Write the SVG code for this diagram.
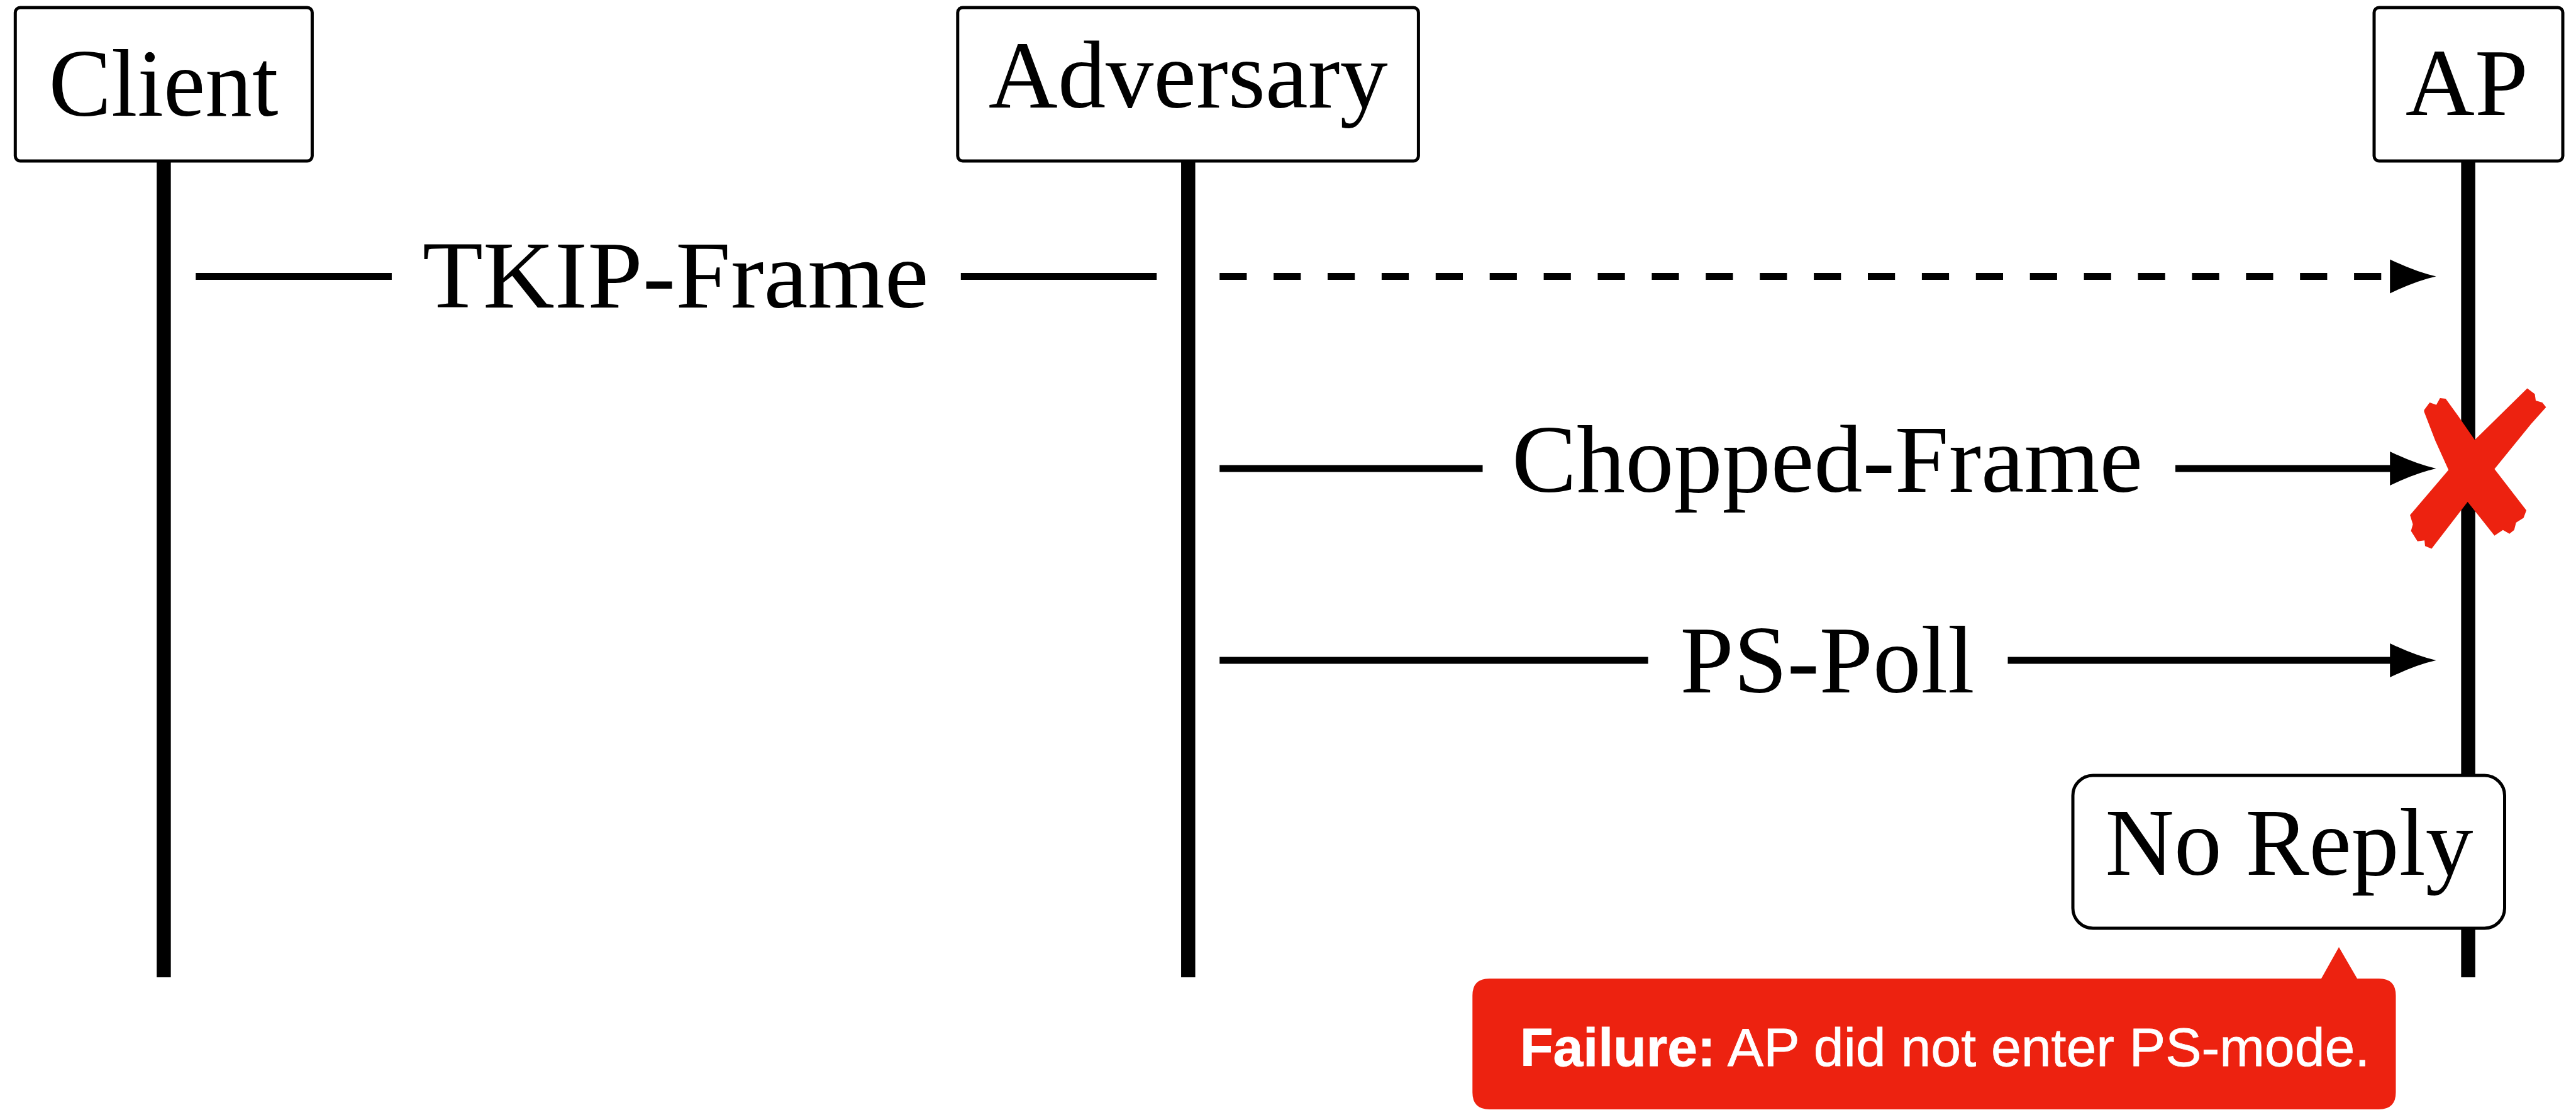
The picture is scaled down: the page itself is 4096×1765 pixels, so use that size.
<svg xmlns="http://www.w3.org/2000/svg" xmlns:xlink="http://www.w3.org/1999/xlink" width="4096" height="1765" viewBox="0 0 4096 1765">
  <style>
    .box { fill: #ffffff; stroke: #000000; stroke-width: 5; }
    .life { stroke: #000000; stroke-width: 22.5; }
    .msg { stroke: #000000; stroke-width: 11; fill: none; }
    .dash { stroke-dasharray: 43.2 42.7; }
    .lbl { font-family: "Liberation Serif", "Times New Roman", serif; font-size: 153px; text-anchor: middle; fill: #000000; }
    .note { font-family: "Liberation Sans", Arial, sans-serif; font-size: 86px; fill: #ffffff; stroke: #ffffff; stroke-width: 0.8; }
  </style>
  <defs>
    <path id="head" d="M0,0 Q-32,-7 -73.4,-27 L-73.4,27 Q-32,7 0,0 Z" fill="#000000"/>
  </defs>
  <rect width="4096" height="1765" fill="#ffffff"/>

  <!-- lifelines -->
  <g id="lifelines">
    <line class="life" x1="260.4" y1="256" x2="260.4" y2="1554"/>
    <line class="life" x1="1889.3" y1="256" x2="1889.3" y2="1554"/>
    <line class="life" x1="3924.6" y1="256" x2="3924.6" y2="1554"/>
  </g>

  <!-- participants -->
  <g id="client">
    <rect class="box" x="24.3" y="11.9" width="472.1" height="244.1" rx="8"/>
    <text class="lbl" x="260" y="184" textLength="365" lengthAdjust="spacingAndGlyphs">Client</text>
  </g>
  <g id="adversary">
    <rect class="box" x="1522.8" y="11.9" width="732.6" height="244.1" rx="8"/>
    <text class="lbl" x="1889.3" y="170.7" textLength="635" lengthAdjust="spacingAndGlyphs">Adversary</text>
  </g>
  <g id="ap">
    <rect class="box" x="3775" y="11.9" width="300" height="244.1" rx="8"/>
    <text class="lbl" x="3922.3" y="183" textLength="195" lengthAdjust="spacingAndGlyphs">AP</text>
  </g>

  <!-- messages -->
  <g id="connectors">
    <!-- TKIP-Frame: client to adversary, then forwarded (dashed) to AP -->
    <line class="msg" x1="311.2" y1="439.4" x2="622.9" y2="439.4"/>
    <line class="msg" x1="1527.8" y1="439.4" x2="1839.2" y2="439.4"/>
    <line class="msg dash" x1="1939.2" y1="439.4" x2="3786.5" y2="439.4"/>
    <use xlink:href="#head" x="3873.6" y="439.4"/>
    <!-- Chopped-Frame -->
    <line class="msg" x1="1939.2" y1="745" x2="2357.5" y2="745"/>
    <line class="msg" x1="3459" y1="745" x2="3802" y2="745"/>
    <use xlink:href="#head" x="3873.6" y="745"/>
    <!-- PS-Poll -->
    <line class="msg" x1="1939.2" y1="1050" x2="2620.6" y2="1050"/>
    <line class="msg" x1="3192.5" y1="1050" x2="3802" y2="1050"/>
    <use xlink:href="#head" x="3873.6" y="1050"/>
  </g>
  <g id="message-labels">
    <text class="lbl" x="1074.3" y="489" textLength="805" lengthAdjust="spacingAndGlyphs">TKIP-Frame</text>
    <text class="lbl" x="2905.6" y="781.7" textLength="1003" lengthAdjust="spacingAndGlyphs">Chopped-Frame</text>
    <text class="lbl" x="2905.6" y="1100.7" textLength="468" lengthAdjust="spacingAndGlyphs">PS-Poll</text>
  </g>

  <!-- dropped frame mark -->
  <g id="drop-mark">
    <path fill="#ED2210" d="M3854.5,651.9 L3863.4,640 L3873.9,643.8 L3879.8,633.1 L3888.8,634 L3908.2,660.8 L3935,699.6 L4018.5,617.6 L4030.5,626.5 L4032,636.9 L4042.4,639.9 L4048.4,647.4 L4024.5,674.2 L3966.4,745.8 L4017.1,811.5 L4012.6,823.4 L4000.7,830.9 L3997.7,842.8 L3990.2,848.8 L3979.8,842.8 L3966.4,851.7 L3923.7,798 L3866.4,872.6 L3856,868.2 L3855.1,859.2 L3844,860.7 L3833.6,844.3 L3836.6,833.8 L3832.1,818.9 L3893.3,747.3 L3872.4,701.1 L3854.5,654.8 Z"/>
  </g>

  <!-- AP state -->
  <g id="no-reply">
    <rect class="box" x="3296" y="1233" width="686.5" height="243" rx="32"/>
    <text class="lbl" x="3640" y="1391.4" textLength="585" lengthAdjust="spacingAndGlyphs">No Reply</text>
  </g>

  <!-- failure callout -->
  <g id="failure-note">
    <path fill="#ED2210" d="M2368.3,1556 L3691,1556 L3719,1506 L3748,1556 L3782.5,1556 Q3809.5,1556 3809.5,1583 L3809.5,1737 Q3809.5,1764 3782.5,1764 L2368.3,1764 Q2341.3,1764 2341.3,1737 L2341.3,1583 Q2341.3,1556 2368.3,1556 Z"/>
    <text class="note" x="2417" y="1695"><tspan font-weight="bold">Failure:</tspan> AP did not enter PS-mode.</text>
  </g>
</svg>
